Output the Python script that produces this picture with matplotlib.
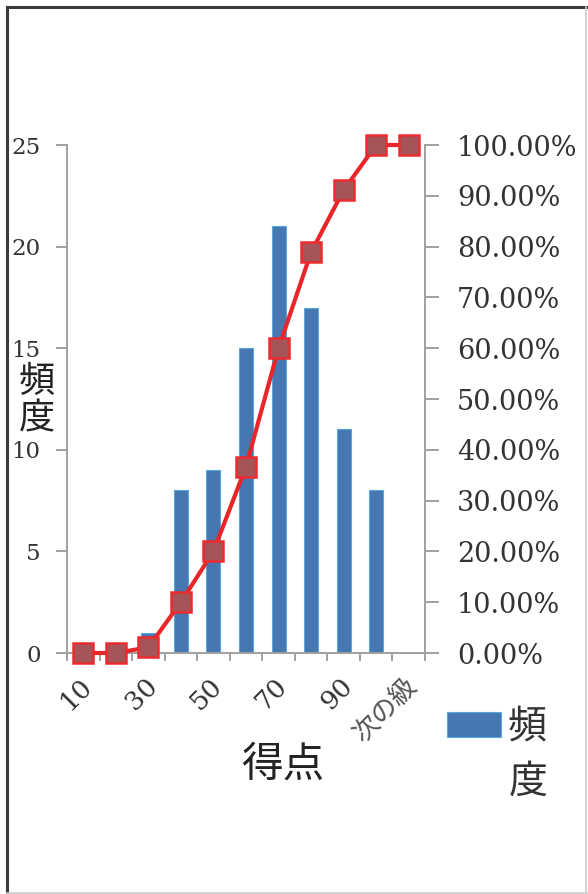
import matplotlib
matplotlib.use("Agg")
import matplotlib.pyplot as plt
from matplotlib.lines import Line2D
from matplotlib.ticker import FixedLocator, FuncFormatter
from matplotlib.transforms import ScaledTranslation
import numpy as np

# Score classes and frequency table
categories = ["10", "20", "30", "40", "50", "60", "70", "80", "90", "100", "次の級"]
frequency = [0, 0, 1, 8, 9, 15, 21, 17, 11, 8, 0]
cumulative_pct = [0.0, 0.0, 1.11, 10.0, 20.0, 36.67, 60.0, 78.89, 91.11, 100.0, 100.0]
left_ticks = [0, 5, 10, 15, 20, 25]
right_ticks = [0, 10, 20, 30, 40, 50, 60, 70, 80, 90, 100]

SERIF = ["DejaVu Serif"]
JP = ["Noto Sans CJK JP", "DejaVu Sans"]
TXT = "#333333"
AXC = "#a0a0a0"

W, H = 588, 894
fig = plt.figure(figsize=(W / 100, H / 100), dpi=100)
fig.patch.set_facecolor("white")

ax = fig.add_axes([67 / W, 1 - 653 / H, (425 - 67) / W, (653 - 145) / H])
ax2 = ax.twinx()

x = np.arange(len(categories))
bars = ax.bar(x, frequency, width=0.43, color="#4677b0",
              edgecolor="#58a6dc", linewidth=0.8, zorder=2)

ax2.plot(x, [v / 100 for v in cumulative_pct], color="#e8262a", lw=3,
         marker="s", markersize=14, markerfacecolor="#a55558",
         markeredgecolor="#ec2b2f", markeredgewidth=1.8, clip_on=False, zorder=5)

ax.set_xlim(-0.5, len(categories) - 0.5)
ax.set_ylim(0, 25)
ax2.set_ylim(0, 1)

for a in (ax, ax2):
    a.spines["top"].set_visible(False)
    for s in ("left", "right", "bottom"):
        a.spines[s].set_color(AXC)
        a.spines[s].set_linewidth(1.4)
    a.set_facecolor("none")
ax.spines["right"].set_visible(False)
ax2.spines["left"].set_visible(False)
ax2.spines["bottom"].set_visible(False)

# y axes
ax.yaxis.set_major_locator(FixedLocator(left_ticks))
ax.tick_params(axis="y", direction="out", length=8, width=1.4, color=AXC,
               pad=11, labelsize=16.5, labelcolor=TXT)
for lab in ax.get_yticklabels():
    lab.set_family(SERIF)

ax2.yaxis.set_major_locator(FixedLocator([t / 100 for t in right_ticks]))
ax2.yaxis.set_major_formatter(FuncFormatter(lambda v, p: f"{v * 100:.2f}%"))
ax2.tick_params(axis="y", direction="out", length=10, width=1.4, color=AXC,
                pad=13, labelsize=19.5, labelcolor=TXT)
for lab in ax2.get_yticklabels():
    lab.set_family(SERIF)

# x axis: tick marks at class boundaries, labels on every other class
ax.set_xticks(x[::2])
ax.set_xticklabels(categories[::2])
ax.set_xticks(np.arange(-0.5, len(categories), 1.0), minor=True)
ax.tick_params(axis="x", which="major", length=0, pad=21, labelsize=19,
               labelcolor=TXT)
ax.tick_params(axis="x", which="minor", direction="out", length=6, width=1.4,
               color=AXC)
nudge = ScaledTranslation(5 / 100, 0, fig.dpi_scale_trans)
for lab in ax.get_xticklabels():
    lab.set_rotation(45)
    lab.set_rotation_mode("anchor")
    lab.set_ha("right")
    lab.set_va("center")
    lab.set_transform(lab.get_transform() + nudge)
    if lab.get_text() == "次の級":
        lab.set_family(JP)
        lab.set_fontsize(19)
        lab.set_color("#555555")
    else:
        lab.set_family(SERIF)

# axis titles
fig.text(37 / W, 1 - 401 / H, "頻\n度", family=JP, fontsize=26, color="#222222",
         ha="center", va="center", linespacing=1.05)
fig.text(283 / W, 1 - 765 / H, "得点", family=JP, fontsize=30, color="#222222",
         ha="center", va="center")

# legend: swatch with the first character, second character wrapped below
ax.legend(handles=[bars], labels=["頻"], loc="center left",
          bbox_to_anchor=(447 / W, 1 - 727 / H), bbox_transform=fig.transFigure,
          frameon=False, handlelength=1.4, handleheight=0.6, handletextpad=0.15,
          borderpad=0, borderaxespad=0,
          prop={"family": JP, "size": 28})
for t in ax.get_legend().get_texts():
    t.set_color("#333333")
fig.text(528 / W, 1 - 782 / H, "度", family=JP, fontsize=28, color="#333333",
         ha="center", va="center")

# figure frame: dark top/left, light right/bottom
fig.add_artist(Line2D([6.5 / W, 6.5 / W], [0, 1 - 6.5 / H], transform=fig.transFigure,
                      color="#3a3a3a", lw=2.2))
fig.add_artist(Line2D([6.5 / W, 1], [1 - 6.5 / H, 1 - 6.5 / H], transform=fig.transFigure,
                      color="#3a3a3a", lw=2.2))
fig.add_artist(Line2D([586 / W, 586 / W], [0, 1 - 6.5 / H], transform=fig.transFigure,
                      color="#cccccc", lw=1.2))
fig.add_artist(Line2D([6.5 / W, 1], [1.5 / H, 1.5 / H], transform=fig.transFigure,
                      color="#cccccc", lw=1.2))

fig.savefig("out.png", dpi=100, facecolor="white")
